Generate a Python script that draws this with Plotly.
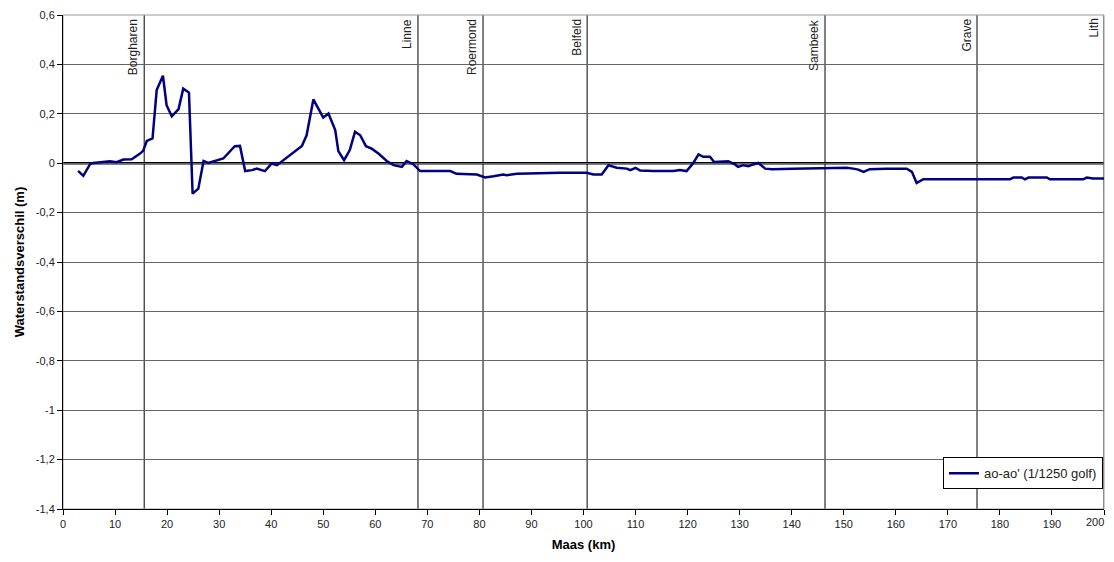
import plotly.graph_objects as go

km = [2.9, 3.9, 5.2, 5.8, 9.0, 10.3, 11.6, 13.2, 14.8, 15.4, 16.1, 17.2, 18.0, 19.2, 19.9, 20.9,
      22.2, 23.1, 24.2, 24.9, 26.0, 27.0, 27.9, 30.8, 33.0, 34.0, 35.0, 36.3, 37.2, 38.8, 40.1,
      41.1, 45.9, 46.8, 48.1, 50.0, 51.0, 52.3, 52.9, 54.0, 55.1, 56.1, 57.1, 58.2, 59.3, 60.6,
      62.2, 63.5, 65.1, 66.0, 67.3, 68.6, 74.4, 75.6, 79.5, 81.1, 82.7, 84.6, 85.2, 87.2, 95.5,
      100.6, 101.9, 103.5, 104.8, 106.4, 108.3, 109.0, 110.0, 110.9, 113.4, 117.3, 118.5, 119.8,
      121.1, 122.1, 123.0, 124.3, 125.1, 126.5, 127.8, 129.1, 129.7, 130.7, 131.7, 132.6, 133.6,
      134.9, 136.2, 140.3, 150.6, 151.8, 152.8, 153.8, 155.0, 158.2, 162.1, 163.1, 164.0, 165.3,
      181.9, 182.6, 184.2, 184.8, 185.5, 189.0, 189.6, 196.0, 196.7, 197.9, 200.0]
diff = [-0.031, -0.051, -0.004, 0.001, 0.008, 0.004, 0.015, 0.016, 0.039, 0.05, 0.09, 0.1, 0.296,
        0.354, 0.235, 0.19, 0.219, 0.302, 0.286, -0.123, -0.103, 0.009, 0.001, 0.019, 0.069, 0.07,
        -0.032, -0.028, -0.022, -0.032, -0.001, -0.008, 0.07, 0.113, 0.258, 0.185, 0.201, 0.134,
        0.049, 0.012, 0.053, 0.127, 0.113, 0.069, 0.059, 0.039, 0.009, -0.008, -0.015, 0.009,
        -0.004, -0.032, -0.032, -0.043, -0.046, -0.058, -0.053, -0.046, -0.049, -0.043, -0.039,
        -0.039, -0.046, -0.046, -0.008, -0.018, -0.022, -0.028, -0.019, -0.03, -0.032, -0.032,
        -0.028, -0.032, 0.001, 0.036, 0.026, 0.026, 0.005, 0.008, 0.008, -0.005, -0.015, -0.008,
        -0.012, -0.005, 0.001, -0.022, -0.024, -0.022, -0.018, -0.022, -0.026, -0.035, -0.024,
        -0.022, -0.022, -0.035, -0.08, -0.065, -0.065, -0.058, -0.058, -0.065, -0.058, -0.058,
        -0.065, -0.065, -0.058, -0.062, -0.062]

cities = ["Borgharen", "Linne", "Roermond", "Belfeld", "Sambeek", "Grave", "Lith"]
city_km = [15.6, 68.2, 80.7, 100.7, 146.4, 175.6, 200.0]

y_ticks = [0.6, 0.4, 0.2, 0, -0.2, -0.4, -0.6, -0.8, -1.0, -1.2, -1.4]
y_labels = ["0,6", "0,4", "0,2", "0", "-0,2", "-0,4", "-0,6", "-0,8", "-1", "-1,2", "-1,4"]
x_ticks = list(range(0, 201, 10))
x_labels = [str(v) for v in x_ticks]

FONT = "Liberation Sans, Arial, sans-serif"

fig = go.Figure()
fig.add_trace(go.Scatter(x=km, y=diff, mode="lines", name="ao-ao' (1/1250 golf)",
                         line=dict(color="#000080", width=2.5)))

shapes = []
annotations = []
for name, xk in zip(cities, city_km):
    shapes.append(dict(type="line", xref="x", yref="paper", x0=xk, x1=xk, y0=0, y1=1,
                       line=dict(color="black", width=1), layer="below"))
    annotations.append(dict(x=xk, y=0.6, xref="x", yref="y", text=name, textangle=-90,
                            showarrow=False, xanchor="right", yanchor="top", xshift=-2, yshift=-2,
                            font=dict(family=FONT, size=12, color="#222")))
# last x tick label drawn as annotation, nudged so it stays inside the page
annotations.append(dict(x=x_ticks[-1], y=0, xref="x", yref="paper", text=x_labels[-1],
                        showarrow=False, xanchor="right", yanchor="top", xshift=2, yshift=-5,
                        font=dict(family=FONT, size=11, color="#222")))
x_tick_text = x_labels[:-1] + [""]

# zero line
shapes.append(dict(type="line", xref="paper", yref="y", x0=0, x1=1, y0=0, y1=0,
                   line=dict(color="black", width=2.5), layer="below"))
# top/right border
shapes.append(dict(type="rect", xref="paper", yref="paper", x0=0, x1=1, y0=0, y1=1,
                   line=dict(color="#999", width=1), layer="below"))

fig.update_layout(
    width=1098, height=546,
    margin=dict(l=55, r=2, t=7, b=45),
    paper_bgcolor="white", plot_bgcolor="white",
    font=dict(family=FONT, size=11, color="#222"),
    shapes=shapes, annotations=annotations,
    showlegend=True,
    legend=dict(x=0.999, y=0.04, xanchor="right", yanchor="bottom", itemwidth=30,
                bgcolor="white", bordercolor="black", borderwidth=1,
                font=dict(family=FONT, size=13, color="#222")),
    xaxis=dict(range=[0, 200], tickvals=x_ticks, ticktext=x_tick_text, ticks="outside", ticklen=5,
               tickcolor="black", automargin=False,
               showgrid=False, zeroline=False, showline=True, linecolor="black", linewidth=1,
               title=dict(text="<b>Maas (km)</b>", font=dict(size=13, color="black"), standoff=10)),
    yaxis=dict(range=[-1.4, 0.6], tickvals=y_ticks, ticktext=y_labels, ticks="outside", ticklen=5,
               tickcolor="black", showgrid=True, gridcolor="#666", gridwidth=1, zeroline=False,
               showline=True, linecolor="black", linewidth=1,
               title=dict(text="<b>Waterstandsverschil (m)</b>", font=dict(size=13, color="black"),
                          standoff=8)),
)

fig.write_html("out.html", config={"displayModeBar": False})
